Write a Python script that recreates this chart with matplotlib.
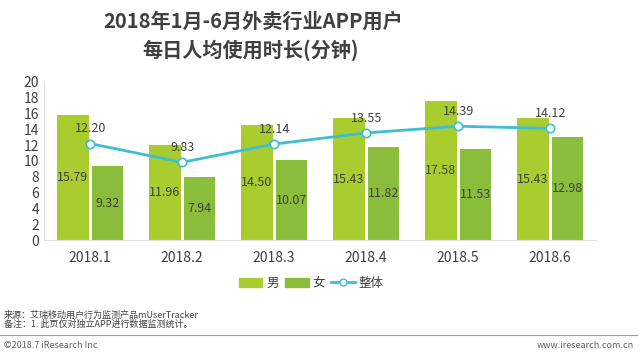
import matplotlib
matplotlib.use("Agg")
import matplotlib.pyplot as plt
from matplotlib.lines import Line2D
from matplotlib.patches import Patch
import numpy as np

plt.rcParams['font.family'] = ['Noto Sans CJK SC', 'DejaVu Sans']

categories = ["2018.1", "2018.2", "2018.3", "2018.4", "2018.5", "2018.6"]
male = [15.79, 11.96, 14.50, 15.43, 17.58, 15.43]
female = [9.32, 7.94, 10.07, 11.82, 11.53, 12.98]
overall = [12.20, 9.83, 12.14, 13.55, 14.39, 14.12]

c_male = "#a9cd2f"
c_female = "#8bbd3d"
c_line = "#3cbfd3"
txt = "#404040"

fig = plt.figure(figsize=(6.4, 3.53), dpi=100)
ax = fig.add_axes([0.069, 0.32, 0.8625, 0.448])

x = np.arange(len(categories))
w = 0.34
gap = 0.017
ax.bar(x - w / 2 - gap, male, width=w, color=c_male, zorder=2)
ax.bar(x + w / 2 + gap, female, width=w, color=c_female, zorder=2)
ax.plot(x, overall, color=c_line, lw=2, marker='o', markersize=6,
        markerfacecolor='white', markeredgecolor=c_line, markeredgewidth=1.2, zorder=4)

for i in range(len(x)):
    ax.text(x[i] - w / 2 - gap, male[i] / 2, f"{male[i]:.2f}", ha='center', va='center',
            fontsize=9, color=txt, zorder=5)
    ax.text(x[i] + w / 2 + gap, female[i] / 2, f"{female[i]:.2f}", ha='center', va='center',
            fontsize=9, color=txt, zorder=5)
    ax.text(x[i], overall[i] + 1.85, f"{overall[i]:.2f}", ha='center', va='center',
            fontsize=9, color=txt, zorder=5)

ax.set_xlim(-0.5, 5.5)
ax.set_ylim(0, 20)
ax.set_yticks(range(0, 21, 2))
ax.set_xticks(x)
ax.set_xticklabels(categories)
ax.tick_params(axis='both', length=0, labelsize=10, colors=txt)
ax.tick_params(axis='x', pad=8)
for s in ['top', 'right']:
    ax.spines[s].set_visible(False)
ax.spines['left'].set_color('#e0e0e0')
ax.spines['bottom'].set_color('#e0e0e0')

fig.text(0.395, 0.94, "2018年1月-6月外卖行业APP用户", ha='center', va='center',
         fontsize=14.5, fontweight='bold', color=txt)
fig.text(0.392, 0.858, "每日人均使用时长(分钟)", ha='center', va='center',
         fontsize=14.5, fontweight='bold', color=txt)

handles = [Patch(color=c_male, label="男"), Patch(color=c_female, label="女"),
           Line2D([0], [0], color=c_line, lw=2, marker='o', markersize=5,
                  markerfacecolor='white', markeredgecolor=c_line, label="整体")]
fig.legend(handles=handles, loc='center', bbox_to_anchor=(0.486, 0.198), ncol=3, frameon=False,
           fontsize=9, handlelength=1.9, handleheight=0.7, columnspacing=0.5, handletextpad=0.3,
           labelcolor=txt)

fig.text(0.006, 0.106, "来源：艾瑞移动用户行为监测产品mUserTracker", fontsize=6.5, color=txt, va='center')
fig.text(0.006, 0.082, "备注：1. 此页仅对独立APP进行数据监测统计。", fontsize=6.5, color=txt, va='center')
fig.add_artist(Line2D([0.0, 0.995], [0.05, 0.05], color='#a0a0a0', lw=0.8))
fig.text(0.006, 0.022, "©2018.7 iResearch Inc", fontsize=6.5, color='#606060', va='center')
fig.text(0.99, 0.022, "www.iresearch.com.cn", fontsize=6.5, color='#606060', va='center', ha='right')

fig.savefig("out.png", dpi=100)
